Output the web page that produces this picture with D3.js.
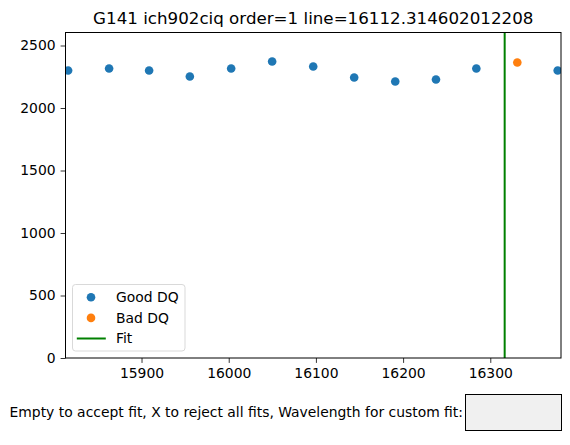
<!DOCTYPE html>
<html>
<head>
<meta charset="utf-8">
<script src="https://cdn.jsdelivr.net/npm/d3@7"></script>
<style>
  body { margin: 0; background: #fff; }
  svg { font-family: "DejaVu Sans", sans-serif; }
</style>
</head>
<body>
<svg width="570" height="445"></svg>
<script>
const goodWave = [15815.8, 15862.8, 15908.7, 15955.4, 16002.8, 16049.8, 16096.9, 16143.9, 16191.0, 16237.7, 16284.0, 16377.3];
const goodFlux = [2300, 2316, 2300, 2252, 2316, 2372, 2332, 2244, 2212, 2228, 2316, 2300];
const badWave = [16331.0];
const badFlux = [2364];
const fitWave = 16316.5;
const xTicks = [15900, 16000, 16100, 16200, 16300];
const yTicks = [0, 500, 1000, 1500, 2000, 2500];
const title = "G141 ich902ciq order=1 line=16112.314602012208";
const prompt = "Empty to accept fit, X to reject all fits, Wavelength for custom fit:";

const width = 570, height = 445;
const margin = {left: 65.5, right: 9, top: 32.5, bottom: 87};
const svg = d3.select("svg");

const x = d3.scaleLinear().domain([15812.8, 16381.1]).range([margin.left, width - margin.right]);
const y = d3.scaleLinear().domain([0, 2604]).range([height - margin.bottom, margin.top]);

// clip so edge points get cut by the axes box
svg.append("clipPath").attr("id", "plot")
    .append("rect")
    .attr("x", margin.left).attr("y", margin.top)
    .attr("width", width - margin.right - margin.left)
    .attr("height", height - margin.bottom - margin.top);

const plot = svg.append("g").attr("clip-path", "url(#plot)");

plot.selectAll(".good")
    .data(goodWave.map((w, i) => [w, goodFlux[i]]))
    .enter().append("circle")
    .attr("class", "good")
    .attr("cx", d => x(d[0]))
    .attr("cy", d => y(d[1]))
    .attr("r", 4.3)
    .attr("fill", "#1f77b4");

plot.selectAll(".bad")
    .data(badWave.map((w, i) => [w, badFlux[i]]))
    .enter().append("circle")
    .attr("class", "bad")
    .attr("cx", d => x(d[0]))
    .attr("cy", d => y(d[1]))
    .attr("r", 4.3)
    .attr("fill", "#ff7f0e");

plot.append("line")
    .attr("x1", x(fitWave)).attr("x2", x(fitWave))
    .attr("y1", margin.top).attr("y2", height - margin.bottom)
    .attr("stroke", "green")
    .attr("stroke-width", 2);

// axes
const xAxis = svg.append("g")
    .attr("transform", `translate(0,${height - margin.bottom})`)
    .call(d3.axisBottom(x).tickValues(xTicks).tickFormat(d3.format("d")).tickSize(4.9).tickPadding(5));
const yAxis = svg.append("g")
    .attr("transform", `translate(${margin.left},0)`)
    .call(d3.axisLeft(y).tickValues(yTicks).tickFormat(d3.format("d")).tickSize(4.9).tickPadding(5));

[xAxis, yAxis].forEach(a => {
    a.select(".domain").remove();
    a.selectAll("text").attr("font-size", "13.9px").attr("fill", "#000").attr("font-family", "DejaVu Sans");
    a.selectAll("line").attr("stroke", "#000").attr("stroke-width", 0.8);
});

svg.append("rect")
    .attr("x", margin.left).attr("y", margin.top)
    .attr("width", width - margin.right - margin.left)
    .attr("height", height - margin.bottom - margin.top)
    .attr("fill", "none")
    .attr("stroke", "#000")
    .attr("stroke-width", 1);

// title
svg.append("text")
    .attr("x", (margin.left + width - margin.right) / 2)
    .attr("y", 24)
    .attr("text-anchor", "middle")
    .attr("font-size", "16.7px")
    .text(title);

// legend
const lg = svg.append("g").attr("transform", "translate(72.5,284.5)");
lg.append("rect")
    .attr("width", 112.5).attr("height", 66.5)
    .attr("rx", 3)
    .attr("fill", "#fff").attr("fill-opacity", 0.8)
    .attr("stroke", "#d9d9d9");
const items = [
    {label: "Good DQ", type: "dot", color: "#1f77b4"},
    {label: "Bad DQ", type: "dot", color: "#ff7f0e"},
    {label: "Fit", type: "line", color: "green"}
];
items.forEach((it, i) => {
    const cy = 12.8 + i * 20.6;
    if (it.type === "dot") {
        lg.append("circle").attr("cx", 18.5).attr("cy", cy).attr("r", 4.3).attr("fill", it.color);
    } else {
        lg.append("line").attr("x1", 4.3).attr("x2", 33.3).attr("y1", cy).attr("y2", cy)
            .attr("stroke", it.color).attr("stroke-width", 2);
    }
    lg.append("text")
        .attr("x", 43.5).attr("y", cy)
        .attr("dy", "0.35em")
        .attr("font-size", "13.9px")
        .text(it.label);
});

// text box widget
svg.append("text")
    .attr("x", 463)
    .attr("y", 412.5)
    .attr("dy", "0.35em")
    .attr("text-anchor", "end")
    .attr("font-size", "13.9px")
    .text(prompt);
svg.append("rect")
    .attr("x", 465.5).attr("y", 394.5)
    .attr("width", 96).attr("height", 36)
    .attr("fill", "#f0f0f0")
    .attr("stroke", "#000")
    .attr("stroke-width", 1);
</script>
</body>
</html>
